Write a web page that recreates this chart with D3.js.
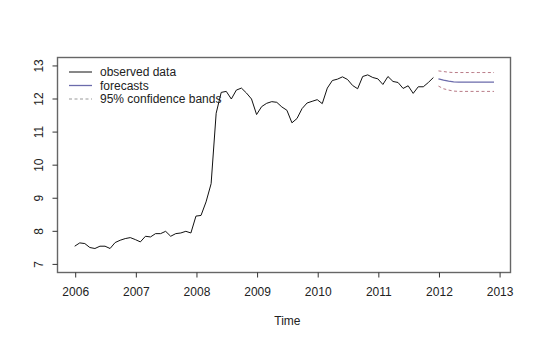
<!DOCTYPE html>
<html>
<head>
<meta charset="utf-8">
<script src="https://cdn.jsdelivr.net/npm/d3@7/dist/d3.min.js"></script>
<style>
  html, body { margin: 0; padding: 0; background: #fff; }
  svg { display: block; font-family: "Liberation Sans", Arial, Helvetica, sans-serif; }
</style>
</head>
<body>
<svg id="chart" width="540" height="344"></svg>
<script>
// ---- data ----
const obsStart = 2006;            // first observed month (Jan 2006), monthly data
const observed = [
  7.52, 7.62, 7.60, 7.48, 7.45, 7.52, 7.52, 7.45, 7.63, 7.70, 7.75, 7.78,
  7.72, 7.65, 7.82, 7.80, 7.90, 7.90, 7.97, 7.82, 7.90, 7.92, 7.97, 7.92,
  8.43, 8.45, 8.86, 9.41, 11.54, 12.17, 12.20, 11.97, 12.24, 12.30, 12.15, 11.97,
  11.50, 11.74, 11.84, 11.89, 11.87, 11.73, 11.63, 11.25, 11.38, 11.68, 11.85, 11.90,
  11.95, 11.83, 12.30, 12.53, 12.57, 12.64, 12.56, 12.38, 12.28, 12.65, 12.70, 12.62,
  12.58, 12.41, 12.65, 12.50, 12.47, 12.29, 12.37, 12.14, 12.34, 12.34, 12.47, 12.62
];
const fcStart = 2012;
const forecasts = [12.58, 12.54, 12.51, 12.49, 12.48, 12.48, 12.48, 12.48, 12.48, 12.48, 12.48, 12.48];
const upperBand = [12.82, 12.80, 12.78, 12.77, 12.77, 12.77, 12.77, 12.77, 12.77, 12.77, 12.77, 12.77];
const lowerBand = [12.36, 12.28, 12.24, 12.21, 12.20, 12.20, 12.20, 12.20, 12.20, 12.20, 12.20, 12.20];
const xTicks = [2006, 2007, 2008, 2009, 2010, 2011, 2012, 2013];
const yTicks = [7, 8, 9, 10, 11, 12, 13];
const legendLabels = ["observed data", "forecasts", "95% confidence bands"];
const xTitle = "Time";

// ---- layout ----
const svg = d3.select("#chart");
const box = { left: 57, right: 510, top: 57, bottom: 272 };
const x = d3.scaleLinear().domain([2005.708, 2013.18]).range([box.left, box.right]);
const y = d3.scaleLinear().domain([6.74, 13.24]).range([box.bottom, box.top]);

const colObs = "#111111";
const colFc = "#6b6bab";
const colBand = "#b87a86";
const dash = "3,2.5";

// plot frame
svg.append("rect")
  .attr("x", box.left + 0.5).attr("y", box.top + 0.5)
  .attr("width", box.right - box.left).attr("height", box.bottom - box.top)
  .attr("fill", "none").attr("stroke", "#666").attr("stroke-width", 1.4);

// bottom axis
const xAxis = d3.axisBottom(x).tickValues(xTicks).tickFormat(d3.format("d")).tickSize(5).tickPadding(10);
const gx = svg.append("g").attr("transform", `translate(0.5,${box.bottom + 0.5})`).call(xAxis);
gx.select(".domain").remove();
gx.selectAll("text").attr("font-size", 12).attr("fill", "#222").attr("font-family", "Liberation Sans, Arial, sans-serif");
gx.selectAll("line").attr("stroke", "#333");

// left axis
const yAxis = d3.axisLeft(y).tickValues(yTicks).tickFormat(d3.format("d")).tickSize(5);
const gy = svg.append("g").attr("transform", `translate(${box.left + 0.5},0.5)`).call(yAxis);
gy.select(".domain").remove();
gy.selectAll("line").attr("stroke", "#333");
gy.selectAll("text")
  .attr("font-size", 12).attr("fill", "#222").attr("font-family", "Liberation Sans, Arial, sans-serif")
  .attr("x", 0).attr("dy", null)
  .attr("text-anchor", "middle")
  .attr("transform", "translate(-15,0) rotate(-90)");

// axis title
svg.append("text")
  .attr("x", (x(2006) + x(2013)) / 2 + 0.5).attr("y", 325)
  .attr("text-anchor", "middle").attr("font-size", 12).attr("fill", "#222")
  .text(xTitle);

// lines
const line = d3.line().x(d => x(d.t)).y(d => y(d.v));
const toSeries = (arr, start) => arr.map((v, i) => ({ t: start + i / 12, v }));

svg.append("path").datum(toSeries(observed, obsStart))
  .attr("d", line).attr("fill", "none").attr("stroke", colObs).attr("stroke-width", 1);
svg.append("path").datum(toSeries(forecasts, fcStart))
  .attr("d", line).attr("fill", "none").attr("stroke", colFc).attr("stroke-width", 1.3);
[upperBand, lowerBand].forEach(b => {
  svg.append("path").datum(toSeries(b, fcStart))
    .attr("d", line).attr("fill", "none").attr("stroke", colBand)
    .attr("stroke-width", 1).attr("stroke-dasharray", dash);
});

// legend
const legendStyles = [
  { color: colObs, dash: null, w: 1 },
  { color: colFc, dash: null, w: 1.3 },
  { color: "#999", dash: dash, w: 1 }
];
const lg = svg.append("g");
legendLabels.forEach((lab, i) => {
  const yy = 72 + i * 13.5;
  lg.append("line")
    .attr("x1", 69).attr("x2", 92).attr("y1", yy).attr("y2", yy)
    .attr("stroke", legendStyles[i].color).attr("stroke-width", legendStyles[i].w)
    .attr("stroke-dasharray", legendStyles[i].dash);
  lg.append("text")
    .attr("x", 100).attr("y", yy).attr("dy", "0.35em")
    .attr("font-size", 12).attr("fill", "#222")
    .text(lab);
});
</script>
</body>
</html>
